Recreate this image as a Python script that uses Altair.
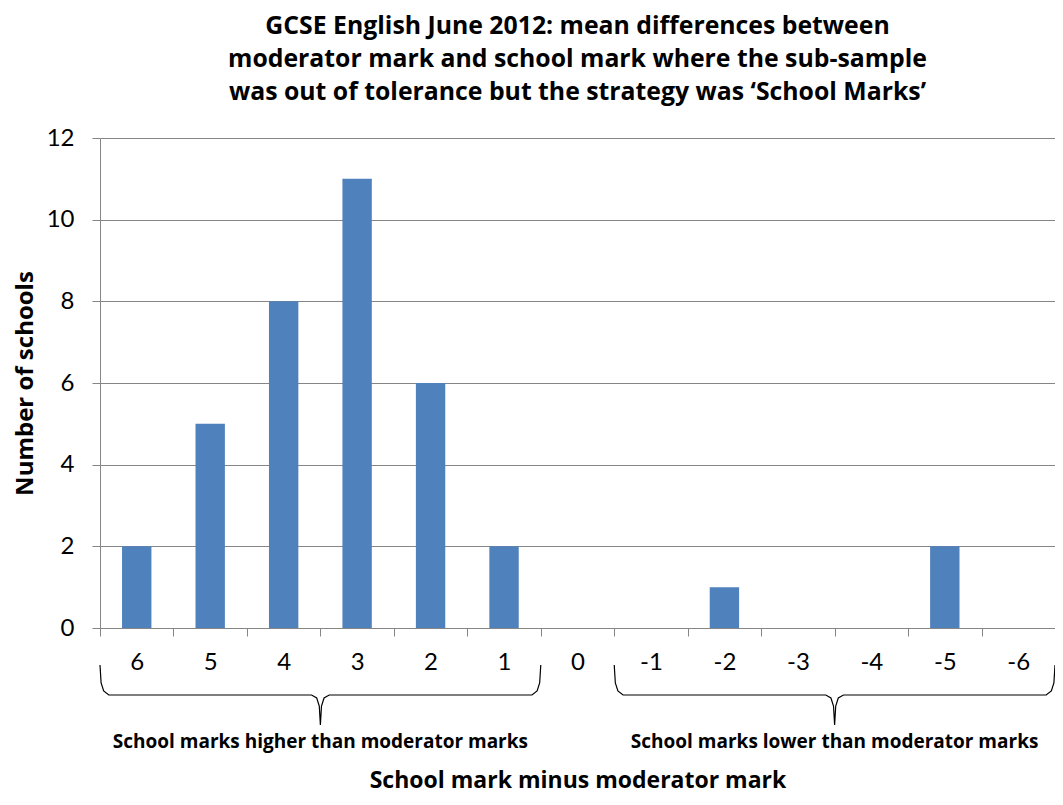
import altair as alt
import pandas as pd

# ---------------- data ----------------
categories = ["6", "5", "4", "3", "2", "1", "0", "-1", "-2", "-3", "-4", "-5", "-6"]
schools = [2, 5, 8, 11, 6, 2, 0, 0, 1, 0, 0, 2, 0]
group_names = ["School marks higher than moderator marks",
               "School marks lower than moderator marks"]
group_first = ["6", "-1"]
group_last = ["1", "-6"]
title_lines = ["GCSE English June 2012: mean differences between",
               "moderator mark and school mark where the sub-sample",
               "was out of tolerance but the strategy was \u2018School Marks\u2019"]
y_ticks = [0, 2, 4, 6, 8, 10, 12]

# ---------------- layout / style ----------------
W, H = 955, 490
PAD = {"left": 92, "top": 130, "right": 0, "bottom": 169}
Y_MAX = 12
U = Y_MAX / H          # data units per pixel
FONT = "Lato"
BFONT = "Open Sans"
BLUE = "#4F81BD"
GREY = "#868686"
N = len(categories)

bars_df = pd.DataFrame({"diff": categories, "schools": schools})

# brace outlines (x in category-band units, y in pixels below the axis)
brace_rows, label_rows = [], []
for g, name in enumerate(group_names):
    i0 = categories.index(group_first[g])
    i1 = categories.index(group_last[g]) + 1
    c = (i0 + i1) / 2
    shape = [(i0, 37), (i0 + 0.015, 55), (i0 + 0.05, 63), (i0 + 0.12, 67),
             (c - 0.12, 67), (c - 0.05, 70), (c - 0.015, 78), (c, 97),
             (c + 0.015, 78), (c + 0.05, 70), (c + 0.12, 67),
             (i1 - 0.12, 67), (i1 - 0.05, 63), (i1 - 0.015, 55), (i1, 37)]
    for k, (bx, dpx) in enumerate(shape):
        brace_rows.append({"g": g, "k": k, "bx": bx, "by": -dpx * U})
    label_rows.append({"bx": c, "by": -114 * U, "label": name})
brace_df = pd.DataFrame(brace_rows)
label_df = pd.DataFrame(label_rows)

bars = alt.Chart(bars_df).mark_bar(color=BLUE, width=alt.RelativeBandSize(0.4)).encode(
    x=alt.X("diff:N", sort=categories,
            scale=alt.Scale(paddingInner=0, paddingOuter=0),
            axis=alt.Axis(title="School mark minus moderator mark",
                          titleFont=BFONT, titleFontSize=23, titleFontWeight="bold",
                          titleColor="black", titleY=159, titleBaseline="alphabetic",
                          labelAngle=0, labelFont=FONT, labelFontSize=24,
                          labelColor="black", labelPadding=14,
                          tickBand="extent", tickSize=8, tickColor=GREY,
                          domainColor=GREY, grid=False)),
    y=alt.Y("schools:Q", scale=alt.Scale(domain=[0, Y_MAX], nice=False),
            axis=alt.Axis(values=y_ticks, title="Number of schools",
                          titleFont=BFONT, titleFontSize=24, titleFontWeight="bold",
                          titleColor="black", titleX=-75, titleBaseline="middle",
                          labelFont=FONT, labelFontSize=24, labelColor="black",
                          labelPadding=18, tickSize=8, tickColor=GREY,
                          domainColor=GREY, gridColor=GREY, gridOpacity=1)),
)

xq = alt.X("bx:Q", scale=alt.Scale(domain=[0, N], nice=False, zero=False), axis=None)
yq = alt.Y("by:Q", scale=alt.Scale(domain=[0, Y_MAX], nice=False), axis=None)

braces = alt.Chart(brace_df).mark_line(color="black", strokeWidth=1.2, clip=False).encode(
    x=xq, y=yq, detail="g:N", order="k:Q")

group_text = alt.Chart(label_df).mark_text(
    font=BFONT, fontSize=19, fontWeight="bold", color="black", baseline="middle", clip=False
).encode(x=xq, y=yq, text="label:N")

chart = alt.layer(bars, braces, group_text).resolve_scale(x="independent", y="independent").properties(
    width=W, height=H,
    autosize=alt.AutoSizeParams(type="none"),
    padding=PAD,
    title=alt.TitleParams(text=title_lines, font=BFONT, fontSize=24.8, fontWeight="bold",
                          color="black", lineHeight=33, anchor="middle", offset=21),
).configure_view(stroke=None)

chart.save("out.html", embed_options={"renderer": "svg", "actions": False})
